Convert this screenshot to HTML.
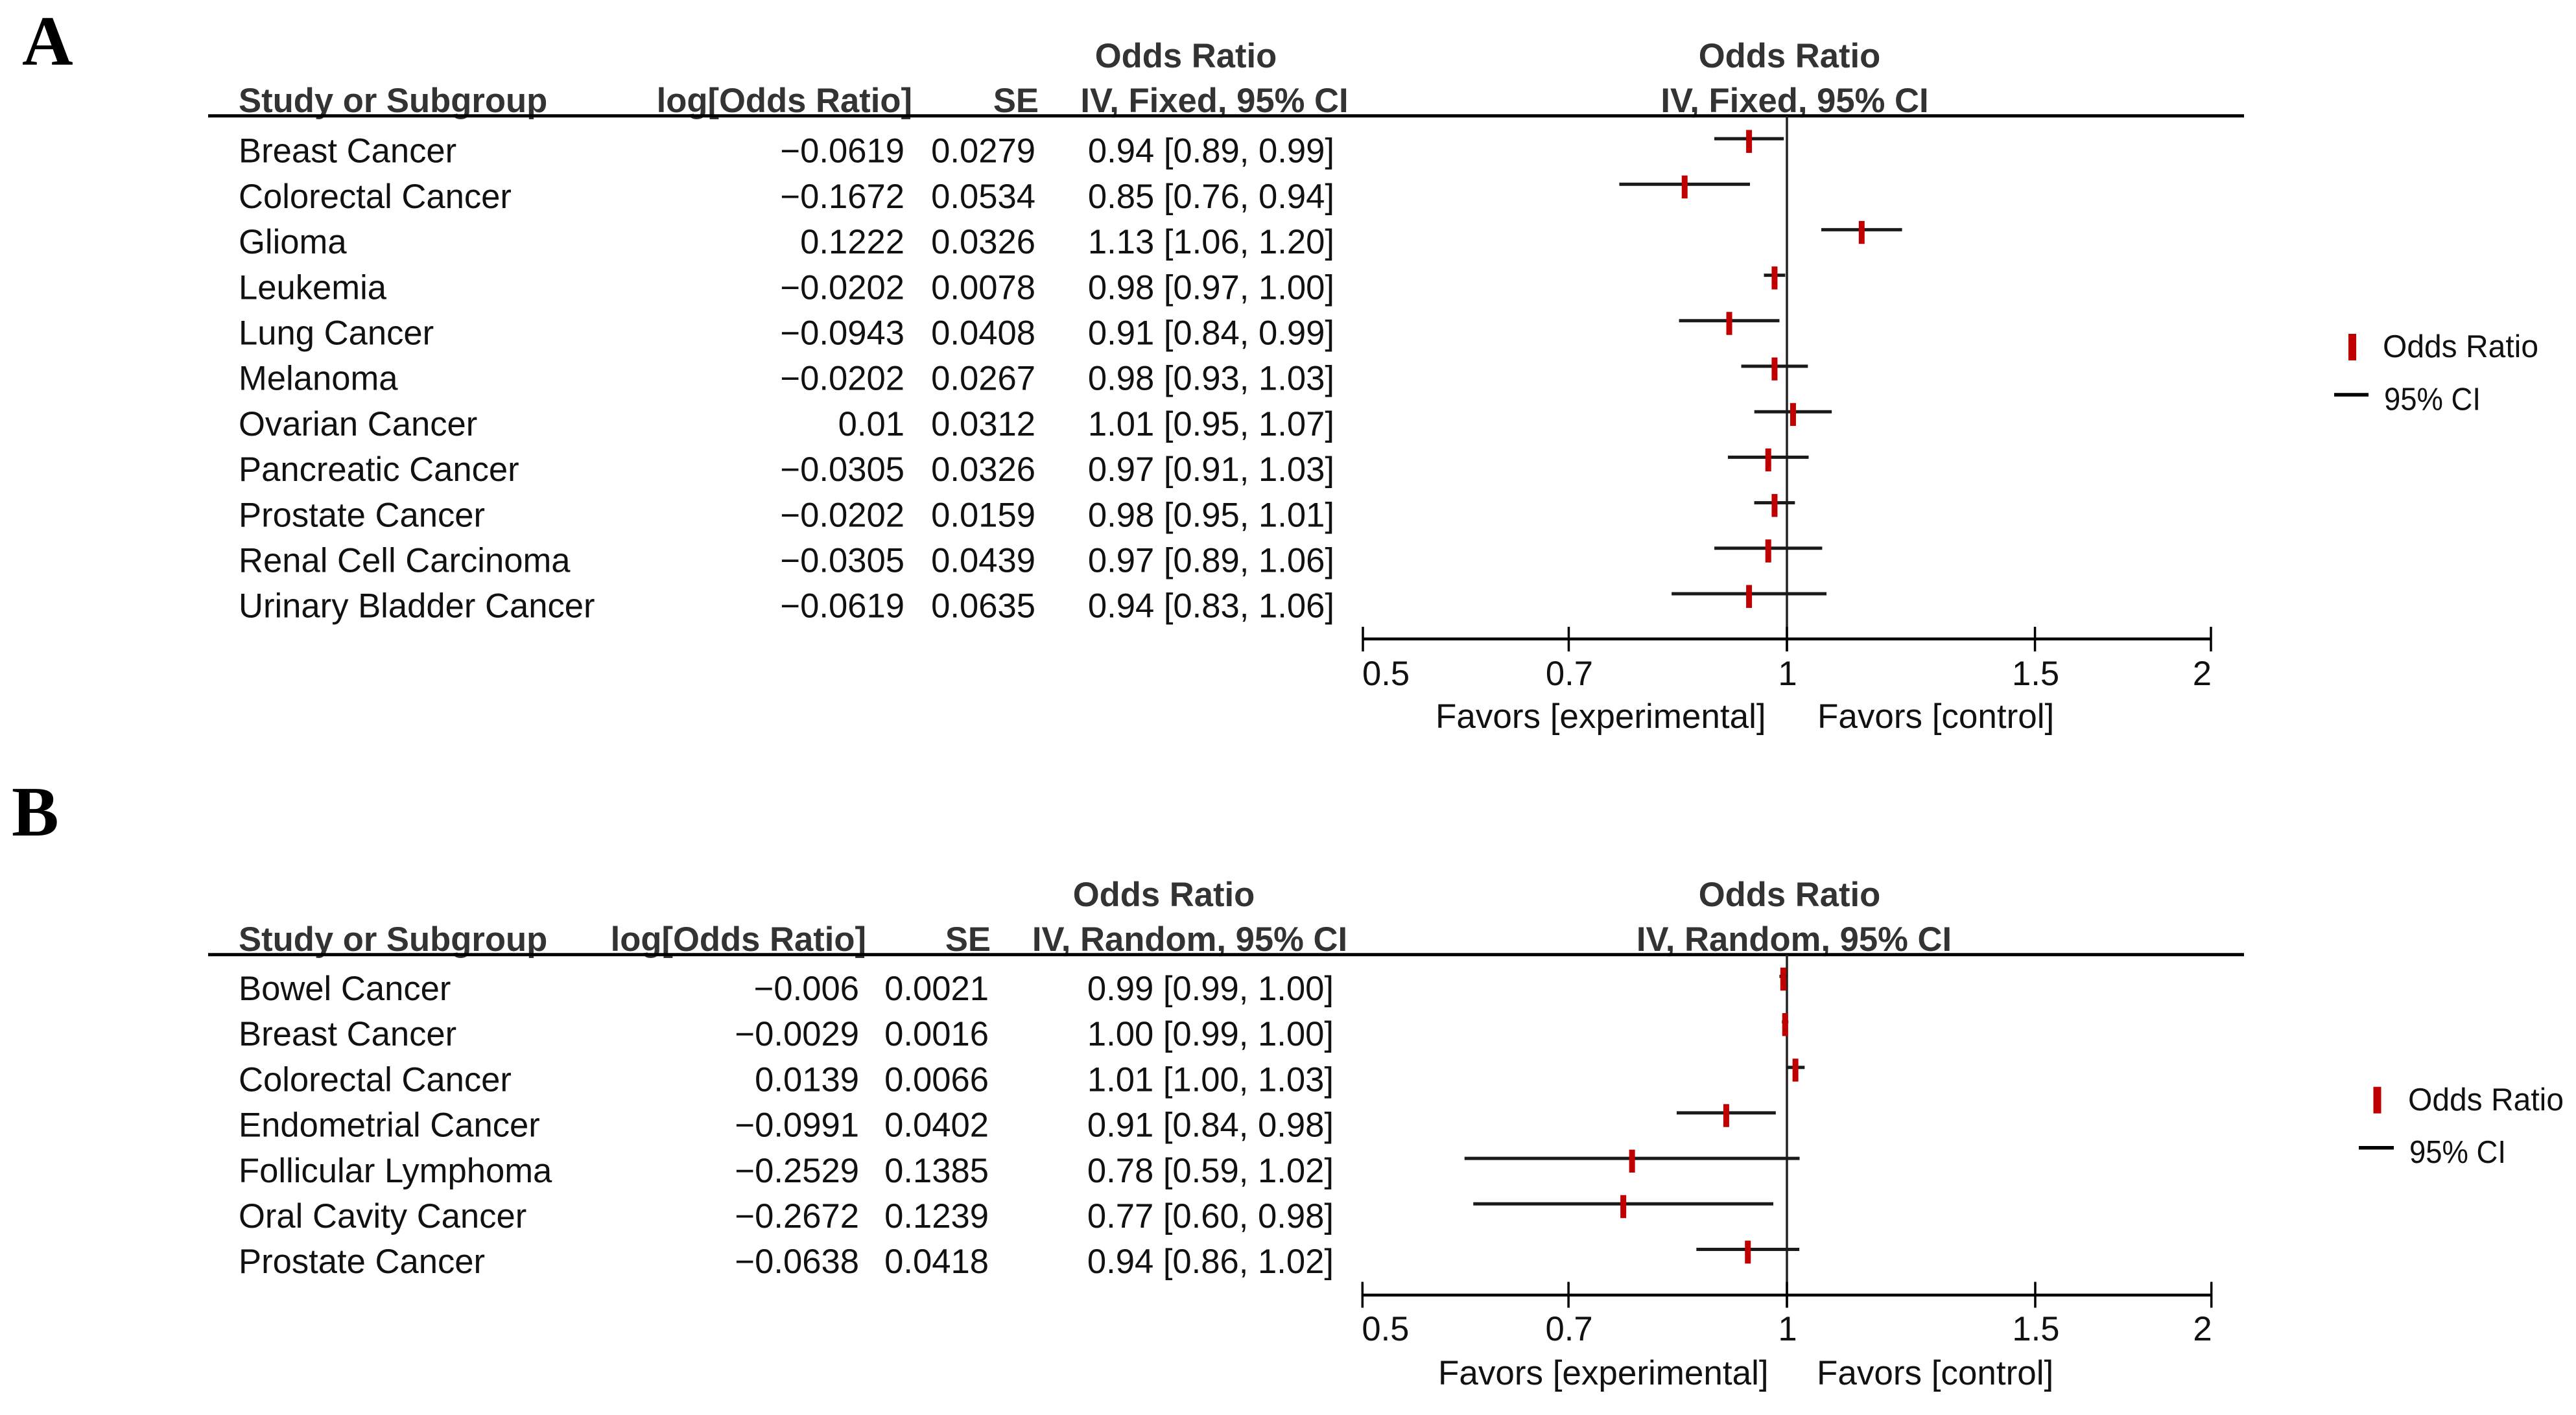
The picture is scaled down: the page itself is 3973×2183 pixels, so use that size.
<!DOCTYPE html>
<html lang="en">
<head>
<meta charset="utf-8">
<title>Forest plots of odds ratios</title>
<style>
  html, body { margin: 0; padding: 0; background: #ffffff; }
  svg { display: block; }
  text { font-family: "Liberation Sans", Arial, sans-serif; font-size: 52.6px; fill: #111111; }
  .hdr { font-weight: 700; fill: #333333; font-size: 52.6px; }
  .label { font-size: 53px; }
  .letter { font-family: "Liberation Serif", "Times New Roman", serif; font-weight: 700; font-size: 109px; fill: #000000; }
  .legend { font-size: 49px; fill: #111111; }
</style>
</head>
<body>
<svg id="figure" xmlns="http://www.w3.org/2000/svg" width="3973" height="2183" viewBox="0 0 3973 2183">
  <rect x="0" y="0" width="3973" height="2183" fill="#ffffff"/>

  <g id="panel-a">
    <text class="letter" x="34" y="100">A</text>
    <text class="hdr" x="1829" y="104" text-anchor="middle">Odds Ratio</text>
    <text class="hdr" x="2760" y="104" text-anchor="middle">Odds Ratio</text>
    <text class="hdr" x="368" y="173">Study or Subgroup</text>
    <text class="hdr" x="1407" y="173" text-anchor="end">log[Odds Ratio]</text>
    <text class="hdr" x="1602" y="173" text-anchor="end">SE</text>
    <text class="hdr" x="1873" y="173" text-anchor="middle">IV, Fixed, 95% CI</text>
    <text class="hdr" x="2768" y="173" text-anchor="middle">IV, Fixed, 95% CI</text>
    <line x1="321" x2="3461" y1="178.7" y2="178.7" stroke="#000000" stroke-width="5"/>
    <text class="label" x="2214" y="1123">Favors [experimental]</text>
    <text class="label" x="2803" y="1123">Favors [control]</text>
    <rect x="3622" y="515" width="12" height="41" fill="#c00000"/>
    <text class="legend" x="3675" y="551" textLength="240" lengthAdjust="spacingAndGlyphs">Odds Ratio</text>
    <line x1="3600" x2="3653" y1="609" y2="609" stroke="#000000" stroke-width="5.5"/>
    <text class="legend" x="3677" y="632.7" textLength="149" lengthAdjust="spacingAndGlyphs">95% CI</text>
  </g>

  <g id="panel-b">
    <text class="letter" x="18" y="1289">B</text>
    <text class="hdr" x="1795" y="1398" text-anchor="middle">Odds Ratio</text>
    <text class="hdr" x="2760" y="1398" text-anchor="middle">Odds Ratio</text>
    <text class="hdr" x="368" y="1467">Study or Subgroup</text>
    <text class="hdr" x="1336" y="1467" text-anchor="end">log[Odds Ratio]</text>
    <text class="hdr" x="1528" y="1467" text-anchor="end">SE</text>
    <text class="hdr" x="1835" y="1467" text-anchor="middle">IV, Random, 95% CI</text>
    <text class="hdr" x="2767" y="1467" text-anchor="middle">IV, Random, 95% CI</text>
    <line x1="321" x2="3461" y1="1472.7" y2="1472.7" stroke="#000000" stroke-width="5"/>
    <text class="label" x="2218" y="2136">Favors [experimental]</text>
    <text class="label" x="2802" y="2136">Favors [control]</text>
    <rect x="3660.5" y="1676.7" width="12" height="41" fill="#c00000"/>
    <text class="legend" x="3714" y="1713" textLength="240" lengthAdjust="spacingAndGlyphs">Odds Ratio</text>
    <line x1="3638" x2="3692" y1="1770.7" y2="1770.7" stroke="#000000" stroke-width="5.5"/>
    <text class="legend" x="3716" y="1794" textLength="149" lengthAdjust="spacingAndGlyphs">95% CI</text>
  </g>
</svg>

<script>
// Panel A data (fixed effects)
var fixedStudies = ["Breast Cancer", "Colorectal Cancer", "Glioma", "Leukemia", "Lung Cancer", "Melanoma", "Ovarian Cancer", "Pancreatic Cancer", "Prostate Cancer", "Renal Cell Carcinoma", "Urinary Bladder Cancer"];
var fixedLogOdds = [-0.0619, -0.1672, 0.1222, -0.0202, -0.0943, -0.0202, 0.01, -0.0305, -0.0202, -0.0305, -0.0619];
var fixedSe = [0.0279, 0.0534, 0.0326, 0.0078, 0.0408, 0.0267, 0.0312, 0.0326, 0.0159, 0.0439, 0.0635];
var fixedCiLabels = ["0.94 [0.89, 0.99]", "0.85 [0.76, 0.94]", "1.13 [1.06, 1.20]", "0.98 [0.97, 1.00]", "0.91 [0.84, 0.99]", "0.98 [0.93, 1.03]", "1.01 [0.95, 1.07]", "0.97 [0.91, 1.03]", "0.98 [0.95, 1.01]", "0.97 [0.89, 1.06]", "0.94 [0.83, 1.06]"];

// Panel B data (random effects)
var randomStudies = ["Bowel Cancer", "Breast Cancer", "Colorectal Cancer", "Endometrial Cancer", "Follicular Lymphoma", "Oral Cavity Cancer", "Prostate Cancer"];
var randomLogOdds = [-0.006, -0.0029, 0.0139, -0.0991, -0.2529, -0.2672, -0.0638];
var randomSe = [0.0021, 0.0016, 0.0066, 0.0402, 0.1385, 0.1239, 0.0418];
var randomCiLabels = ["0.99 [0.99, 1.00]", "1.00 [0.99, 1.00]", "1.01 [1.00, 1.03]", "0.91 [0.84, 0.98]", "0.78 [0.59, 1.02]", "0.77 [0.60, 0.98]", "0.94 [0.86, 1.02]"];

// Shared axis ticks
var axisTickValues = [0.5, 0.7, 1, 1.5, 2];
var axisTickLabels = ["0.5", "0.7", "1", "1.5", "2"];

var SVG_NS = "http://www.w3.org/2000/svg";
var Z_95 = 1.96;

function formatNumber(v) {
  return String(v).replace("-", "\u2212");
}

function makeText(parent, x, y, anchor, content) {
  var t = document.createElementNS(SVG_NS, "text");
  t.setAttribute("x", x);
  t.setAttribute("y", y);
  t.setAttribute("text-anchor", anchor);
  t.textContent = content;
  parent.appendChild(t);
  return t;
}

function makeLine(parent, x1, y1, x2, y2, color, width) {
  var l = document.createElementNS(SVG_NS, "line");
  l.setAttribute("x1", x1);
  l.setAttribute("y1", y1);
  l.setAttribute("x2", x2);
  l.setAttribute("y2", y2);
  l.setAttribute("stroke", color);
  l.setAttribute("stroke-width", width);
  parent.appendChild(l);
  return l;
}

function drawPanel(layout, studies, logOdds, se, ciLabels) {
  var panel = document.getElementById(layout.id);

  function xFromLog(v) {
    return layout.centerX + layout.pxPerLog * v;
  }
  function rowBaseline(i) {
    return layout.firstBaseline + i * layout.rowStep;
  }

  var refLine = makeLine(panel, xFromLog(0), layout.ruleY, xFromLog(0), layout.tickBottom, "#222222", 3.5);
  
  

  var axisLine = makeLine(panel, xFromLog(Math.log(axisTickValues[0])), layout.axisY, xFromLog(Math.log(axisTickValues[axisTickValues.length - 1])), layout.axisY, "#000000", 4.5);
  
  

  axisTickValues.forEach(function (tickValue, i) {
    var tx = xFromLog(Math.log(tickValue));
    var tick = makeLine(panel, tx, layout.tickTop, tx, layout.tickBottom, "#000000", 3.5);
    
    
    var anchor = i === 0 ? "start" : (i === axisTickValues.length - 1 ? "end" : "middle");
    var label = makeText(panel, tx + (i === 0 ? -1 : 1), layout.tickLabelY, anchor, axisTickLabels[i]);
    
    
  });

  studies.forEach(function (study, i) {
    var y = rowBaseline(i);

    var nameCell = makeText(panel, layout.studyX, y, "start", study);
    
    

    var logCell = makeText(panel, layout.logEndX, y, "end", formatNumber(logOdds[i]));
    
    

    var seCell = makeText(panel, layout.seEndX, y, "end", formatNumber(se[i]));
    
    

    var ciCell = makeText(panel, layout.ciEndX, y, "end", ciLabels[i]);
    
    

    var ciLine = makeLine(panel, xFromLog(logOdds[i] - Z_95 * se[i]) - 2, y - 36.7, xFromLog(logOdds[i] + Z_95 * se[i]) + 2, y - 36.7, "#1a1a1a", 5);
    
    

    var marker = makeLine(panel, xFromLog(logOdds[i]), y - 50.2, xFromLog(logOdds[i]), y - 14.8, "#c00000", 9);
    
    
  });
}

drawPanel(
  { id: "panel-a", centerX: 2756, pxPerLog: 943.5, firstBaseline: 250.7, rowStep: 70.2, ruleY: 178.7, axisY: 985.7, tickTop: 967, tickBottom: 1005, tickLabelY: 1057, studyX: 368, logEndX: 1395, seEndX: 1597, ciEndX: 2058 },
  fixedStudies, fixedLogOdds, fixedSe, fixedCiLabels
);
drawPanel(
  { id: "panel-b", centerX: 2756, pxPerLog: 944.5, firstBaseline: 1543, rowStep: 70.2, ruleY: 1472.7, axisY: 1998, tickTop: 1977.6, tickBottom: 2017.5, tickLabelY: 2068, studyX: 368, logEndX: 1325, seEndX: 1525, ciEndX: 2057 },
  randomStudies, randomLogOdds, randomSe, randomCiLabels
);
</script>
</body>
</html>
